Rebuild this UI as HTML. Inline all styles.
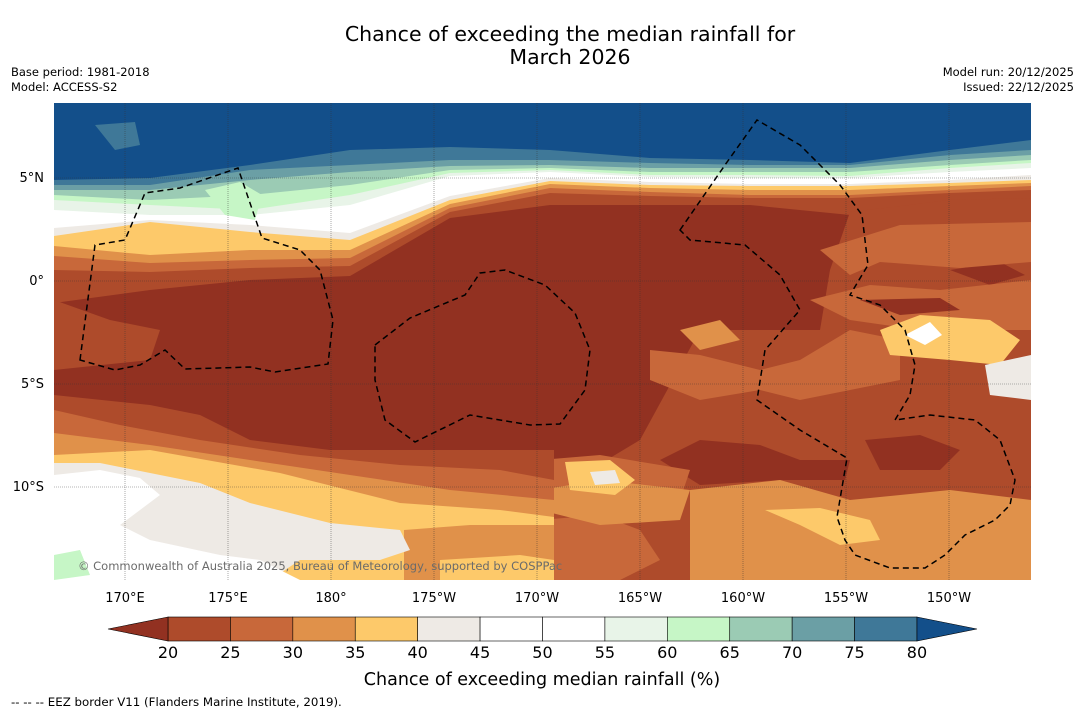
<!DOCTYPE html>
<html><head><meta charset="utf-8">
<style>
body{margin:0;background:#fff;width:1085px;height:713px;overflow:hidden;font-family:"DejaVu Sans","Liberation Sans",sans-serif;}
svg{display:block}
</style></head>
<body>
<svg id="chart" width="1085" height="713" viewBox="0 0 1085 713" xmlns="http://www.w3.org/2000/svg" font-family="DejaVu Sans, Liberation Sans, sans-serif">
<g font-size="20.5" text-anchor="middle" fill="#000">
<text x="570" y="41">Chance of exceeding the median rainfall for</text>
<text x="570" y="64">March 2026</text>
</g>
<g font-size="11.5">
<text x="11" y="76">Base period: 1981-2018</text>
<text x="11" y="91">Model: ACCESS-S2</text>
</g>
<g font-size="11.5" text-anchor="end">
<text x="1074" y="76">Model run: 20/12/2025</text>
<text x="1074" y="91">Issued: 22/12/2025</text>
</g>
<defs><clipPath id="mc"><rect x="54" y="103" width="977" height="477"/></clipPath></defs>
<g id="map" clip-path="url(#mc)"></g>
<g id="grid"></g>
<g id="eez" fill="none" stroke="#000" stroke-width="1.5" stroke-dasharray="6,4"></g>
<text x="78" y="570" font-size="11.5" fill="#6b6b6b">© Commonwealth of Australia 2025, Bureau of Meteorology, supported by COSPPac</text>
<g id="xt" font-size="13" text-anchor="middle"></g>
<g id="yt" font-size="13" text-anchor="end"></g>
<g id="cbar"></g>
<text x="542" y="685" font-size="17.5" text-anchor="middle">Chance of exceeding median rainfall (%)</text>
<text x="11" y="706" font-size="11.8">--  --  -- EEZ border V11 (Flanders Marine Institute, 2019).</text>
</svg>
<script>
const levels=[20,25,30,35,40,45,50,55,60,65,70,75,80];
const binColors=['#ae4b2b','#c8683a','#e0914a','#fdc96a','#eeeae5','#ffffff','#ffffff','#e8f4e8','#c6f6c6','#9bcbb4','#6b9fa5','#3f7898'];
const underColor='#923121', overColor='#134f8a';
const lonTicks=[170,175,180,185,190,195,200,205,210];
const lonLabels=['170°E','175°E','180°','175°W','170°W','165°W','160°W','155°W','150°W'];
const latTicks=[5,0,-5,-10];
const latLabels=['5°N','0°','5°S','10°S'];
const NS='http://www.w3.org/2000/svg';
const X=lon=>125+(lon-170)*20.6, Y=lat=>281-lat*20.6;
function mk(t,a,p){const e=document.createElementNS(NS,t);for(const k in a)e.setAttribute(k,a[k]);p.appendChild(e);return e;}
const map=document.getElementById('map');
const bx=[54,150,250,350,450,550,650,750,850,950,1031];
const bands=[
['#3f7898',[180,178,165,150,147,150,158,160,163,150,140]],
['#6b9fa5',[185,185,170,165,160,160,163,165,165,155,150]],
['#9bcbb4',[190,190,180,172,166,165,168,168,168,160,155]],
['#c6f6c6',[195,200,195,185,170,168,172,172,172,165,160]],
['#e8f4e8',[200,205,210,195,173,170,175,175,176,168,163]],
['#ffffff',[210,215,215,205,176,172,177,178,178,172,168]],
['#eeeae5',[228,220,225,233,196,178,182,184,184,180,175]],
['#fdc96a',[236,222,232,240,200,181,185,186,186,183,180]],
['#e0914a',[246,255,250,250,204,184,188,190,190,186,183]],
['#c8683a',[256,263,260,258,208,188,192,195,195,190,186]],
['#ae4b2b',[270,272,268,266,212,193,196,198,198,193,190]],
['#923121',[303,290,280,276,218,205,205,205,215,230,240]]];
let r=mk('rect',{x:54,y:103,width:977,height:477,fill:overColor},map);

bands.forEach((b,i)=>{let d='M54,600 ';bx.forEach((x,j)=>d+='L'+x+','+b[1][j]+' ');d+='L1031,600Z';
 const p=mk('path',{d:d,fill:b[0]},map);
 });
const patches=[
['#3f7898','95,125 135,122 140,145 115,150'],
['#c6f6c6','205,190 240,182 262,195 255,220 225,215'],
['#ae4b2b','54,300 110,320 160,330 150,360 54,370'],
['#ae4b2b','850,212 950,200 1031,198 1031,580 540,580 540,500 640,440 700,330 820,330 830,270'],
['#923121','950,270 1000,262 1025,275 990,285'],
['#c8683a','820,250 900,225 1031,222 1031,262 960,268 880,262 850,275'],
['#c8683a','810,300 870,285 940,290 1031,280 1031,330 920,330 850,320'],
['#923121','860,300 940,298 960,310 900,315'],
['#c8683a','650,350 700,355 760,370 800,360 850,330 900,340 900,380 850,390 800,400 760,390 700,400 650,380'],
['#fdc96a','880,330 920,315 990,320 1020,340 1000,365 950,360 890,355'],
['#ffffff','905,335 930,322 942,335 925,345'],
['#eeeae5','985,365 1031,355 1031,400 990,395'],
['#e0914a','680,330 720,320 740,340 700,350'],
['#923121','660,460 700,440 760,445 800,460 850,460 845,480 780,480 700,485'],
['#923121','865,440 920,435 960,450 940,470 880,470'],
['#c8683a','540,460 600,455 690,470 680,500 600,505 540,500'],
['#c8683a','540,520 600,515 640,530 660,560 620,580 540,580'],
['#e0914a','690,490 780,480 850,500 950,490 1031,500 1031,580 690,580'],
['#e0914a','540,490 600,480 690,490 680,520 600,525 540,510'],
['#fdc96a','565,462 610,460 635,480 615,495 570,490'],
['#eeeae5','590,472 615,470 620,483 595,485'],
['#fdc96a','765,510 820,508 870,520 880,540 840,545 800,525'],
['#ae4b2b','54,395 150,405 200,415 250,440 330,450 554,450 554,580 54,580'],
['#c8683a','54,410 120,425 200,440 300,455 400,465 500,470 554,480 554,580 54,580'],
['#e0914a','54,433 150,445 250,460 350,475 450,490 554,500 554,580 54,580'],
['#fdc96a','54,455 150,450 280,473 400,503 500,510 554,517 554,580 54,580'],
['#e0914a','404,530 470,525 554,525 554,580 404,580'],
['#fdc96a','440,560 520,555 554,560 554,580 440,580'],
['#eeeae5','54,463 100,463 200,483 250,503 330,523 400,530 410,550 380,560 300,560 270,580 54,580'],
['#ffffff','54,475 100,470 140,478 160,495 140,510 120,525 150,540 220,555 260,560 300,580 54,580'],
['#c6f6c6','54,555 80,550 90,575 54,580']];
patches.forEach(p=>{const e=mk('polygon',{points:p[1],fill:p[0]},map);
 });
const g=document.getElementById('grid');
lonTicks.forEach(l=>{const e=mk('line',{x1:X(l),x2:X(l),y1:103,y2:580,stroke:'#333','stroke-width':0.6,'stroke-dasharray':'1,1',opacity:0.7},g);
 });
latTicks.forEach(l=>{const e=mk('line',{x1:54,x2:1031,y1:Y(l),y2:Y(l),stroke:'#333','stroke-width':0.6,'stroke-dasharray':'1,1',opacity:0.7},g);
 });
const xt=document.getElementById('xt');
lonLabels.forEach((s,i)=>{const e=mk('text',{x:X(lonTicks[i]),y:602},xt);e.textContent=s;
 });
const yt=document.getElementById('yt');
latLabels.forEach((s,i)=>{const e=mk('text',{x:44,y:Y(latTicks[i])+4},yt);e.textContent=s;
 });
const eez=document.getElementById('eez');
['M80,360 L95,245 L125,240 L145,193 L180,188 L238,168 L262,238 L300,250 L320,270 L333,320 L328,364 L275,372 L250,367 L185,369 L165,350 L140,365 L115,370 Z',
 'M375,345 L410,318 L465,295 L480,273 L505,270 L545,285 L575,313 L590,350 L585,390 L560,424 L530,425 L470,415 L415,442 L385,420 L375,380 Z',
 'M680,230 L725,165 L757,120 L800,145 L840,185 L862,215 L868,265 L850,295 L880,305 L905,330 L915,365 L910,395 L895,420 L930,415 L975,420 L1000,440 L1015,480 L1010,505 L995,520 L965,535 L945,555 L925,568 L890,568 L855,555 L845,540 L837,517 L847,458 L800,430 L757,400 L765,350 L800,310 L780,275 L745,245 L690,240 Z'
].forEach(d=>{const e=mk('path',{d:d},eez);
 });
const cb=document.getElementById('cbar');
const CX=v=>168+(v-20)*12.483, cy=617, ch=24;
for(let i=0;i<binColors.length;i++){const e=mk('rect',{x:CX(levels[i]),y:cy,width:CX(levels[i+1])-CX(levels[i]),height:ch,fill:binColors[i],stroke:'#000','stroke-width':0.6},cb);
 }
let t=mk('polygon',{points:`${CX(20)},${cy} 108,${cy+ch/2} ${CX(20)},${cy+ch}`,fill:underColor,stroke:'#000','stroke-width':0.6},cb);

t=mk('polygon',{points:`${CX(80)},${cy} 977,${cy+ch/2} ${CX(80)},${cy+ch}`,fill:overColor,stroke:'#000','stroke-width':0.6},cb);

levels.forEach(v=>{const e=mk('text',{x:CX(v),y:658,'font-size':16,'text-anchor':'middle'},cb);e.textContent=v;
 });
</script>
</body></html>
